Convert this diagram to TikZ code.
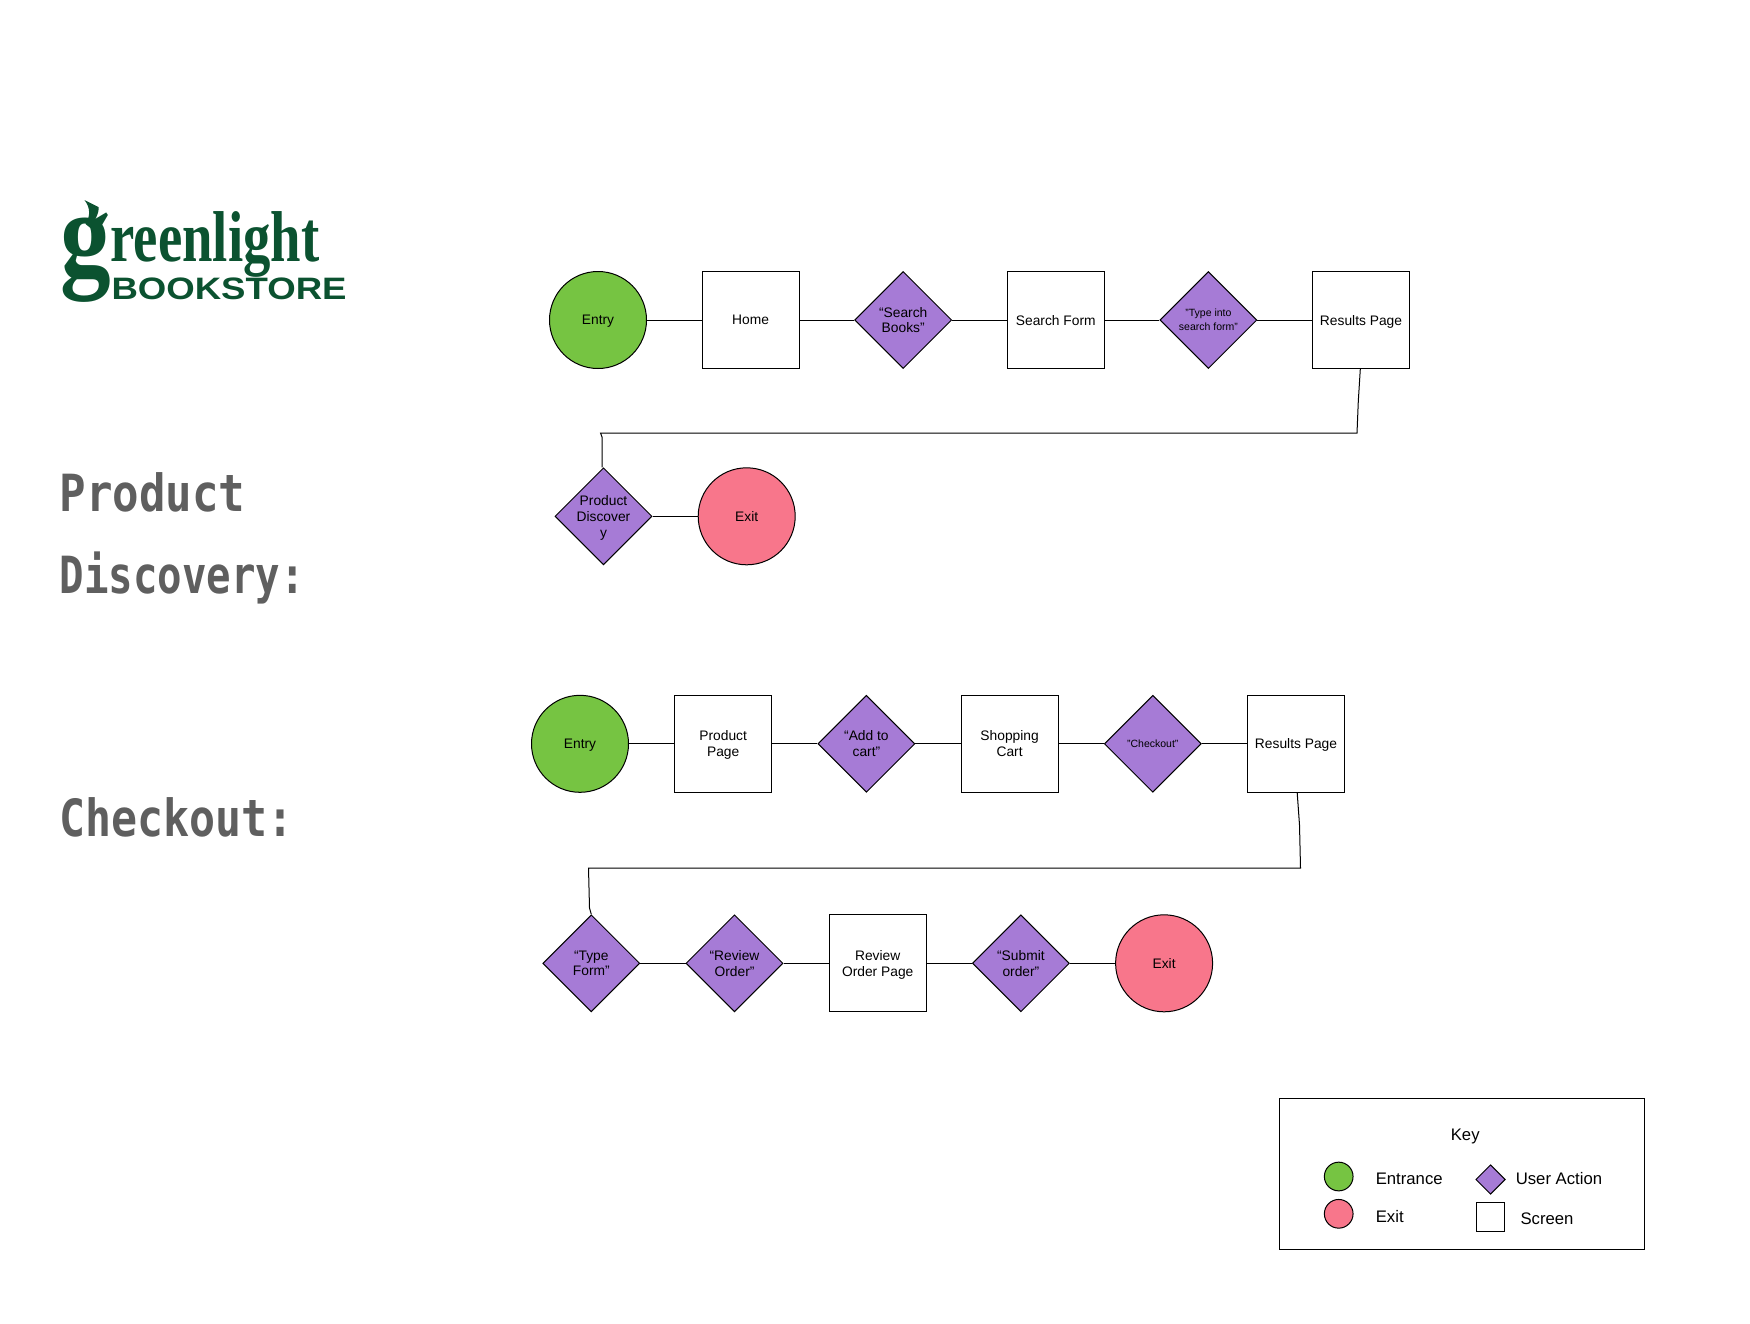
\documentclass[tikz,border=0pt]{standalone}
\usepackage{amsmath}
\usepackage{fontspec}
\setmainfont{Liberation Sans}
\newfontfamily\logofont{Liberation Serif}
\newfontfamily\titlefont{DejaVu Sans Mono}
\usepackage{tikz}
\usetikzlibrary{shapes.geometric}

\definecolor{entrygreen}{HTML}{76C442}
\definecolor{exitpink}{HTML}{F8768B}
\definecolor{actionpurple}{HTML}{A67BD6}
\definecolor{logogreen}{HTML}{0B5230}
\definecolor{titlegrey}{HTML}{5F5F5F}
\newcommand{\titlebox}[2]{\scalebox{#1}[1.22]{#2}}

\begin{document}
\begin{tikzpicture}[-,x=1pt,y=-1pt,line width=1pt,
                    base node/.style={draw,inner sep=0pt,minimum size=97pt,align=center,
                      text depth=0pt,font=\fontsize{13.8}{15.8}\selectfont},
                    entry node/.style={base node,circle,fill=entrygreen},
                    exit node/.style={base node,circle,fill=exitpink},
                    screen node/.style={base node,rectangle,fill=white},
                    action node/.style={base node,diamond,fill=actionpurple},
                    tiny text/.style={font=\fontsize{10.5}{14}\selectfont},
                    key text/.style={anchor=west,inner sep=0pt,font=\fontsize{16.7}{18}\selectfont},
                    title text/.style={anchor=base west,inner sep=0pt,text=titlegrey,
                      font=\titlefont\bfseries\fontsize{42}{44}\selectfont}]

  \useasboundingbox (0,0) rectangle (1750,1323);

  %Logo%
  \node[anchor=base west,inner sep=0pt,text=logogreen,font=\logofont\bfseries] (logo) at (59.5,261)
    {\smash{\raisebox{-14pt}{\scalebox{0.83}[1]{\fontsize{122}{122}\selectfont g}}}\scalebox{0.76}[1]{\fontsize{72}{72}\selectfont reenlight}};
  \node[anchor=base west,inner sep=0pt,text=logogreen,font=\bfseries] (store) at (111,299)
    {\scalebox{1.18}[1]{\fontsize{31}{31}\selectfont BOOKSTORE}};
  \fill[logogreen] (84.5,200) -- (98.5,207) .. controls (99.5,214) and (93.5,222) .. (90.5,228)
    -- (85.5,224) .. controls (90.5,216) and (90.5,208) .. (84.5,200);

  %Titles%
  \node[title text] (title1) at (59,511.7) {\titlebox{1.05}{Product}};
  \node[title text] (title2) at (59,593) {\titlebox{0.97}{Discovery:}};
  \node[title text] (title3) at (59,836.7) {\titlebox{1.03}{Checkout:}};

  %Product Discovery%
  \begin{scope}[node distance=152.6pt]
  \node[entry node] (1) at (598,320) {Entry};
  \node[screen node] (2) [right of=1] {Home};
  \node[action node] (3) [right of=2] {“Search\\Books”};
  \node[screen node] (4) [right of=3] {Search Form};
  \node[action node] (5) [right of=4,tiny text] {"Type into\\search form"};
  \node[screen node] (6) [right of=5] {Results Page};
  \end{scope}

  \begin{scope}[node distance=143.2pt]
  \node[action node] (7) at (603.5,516.3) {Product\\Discover\\y};
  \node[exit node] (8) [right of=7] {Exit};

  %Checkout%
  \node[entry node] (9) at (580,743.8) {Entry};
  \node[screen node] (10) [right of=9] {Product\\Page};
  \node[action node] (11) [right of=10] {“Add to\\cart”};
  \node[screen node] (12) [right of=11] {Shopping\\Cart};
  \node[action node] (13) [right of=12,tiny text] {"Checkout"};
  \node[screen node] (14) [right of=13] {Results Page};

  \node[action node] (15) at (591.3,963.3) {“Type\\Form”};
  \node[action node] (16) [right of=15] {“Review\\Order”};
  \node[screen node] (17) [right of=16] {Review\\Order Page};
  \node[action node] (18) [right of=17] {“Submit\\order”};
  \node[exit node] (19) [right of=18] {Exit};
  \end{scope}

  \coordinate (a0) at (1358.3,401);
  \coordinate (a1) at (1357,433);
  \coordinate (a2) at (600.5,433);
  \coordinate (a3) at (602,437);
  \coordinate (b0) at (1299.5,825);
  \coordinate (b1) at (1300.5,868);
  \coordinate (b2) at (588.5,868);
  \coordinate (b3) at (589.5,908);

  \path
    %Product Discovery%
    (1) edge (2)
    (2) edge (3)
    (3) edge (4)
    (4) edge (5)
    (5) edge (6)
    (7) edge (8)
    %Checkout%
    (9) edge (10)
    (10) edge (11)
    (11) edge (12)
    (12) edge (13)
    (13) edge (14)
    (15) edge (16)
    (16) edge (17)
    (17) edge (18)
    (18) edge (19);
  \draw ([xshift=-0.7pt]6.south) -- (a0) -- (a1) -- (a2) -- (a3) -- ([xshift=-1.5pt]7.north);
  \draw ([xshift=1.2pt]14.south) -- (b0) -- (b1) -- (b2) -- (b3) -- (15.north);

  %Key%
  \node[draw,inner sep=0pt,minimum width=365pt,minimum height=151pt] (key) at (1461.8,1174) {};
  \node[inner sep=0pt,font=\fontsize{16.7}{18}\selectfont] (keytitle) at (1465.2,1136) {Key};
  \node[circle,draw,inner sep=0pt,minimum size=28.7pt,fill=entrygreen] (k1) at (1338.7,1176.5) {};
  \node[circle,draw,inner sep=0pt,minimum size=28.7pt,fill=exitpink] (k2) at (1338.7,1213.8) {};
  \node[diamond,draw,inner sep=0pt,minimum size=29.5pt,fill=actionpurple] (k3) at (1490.5,1179.5) {};
  \node[draw,inner sep=0pt,minimum size=28.5pt,fill=white] (k4) at (1490.5,1217) {};
  \node[key text] (t1) at (1375.3,1179) {Entrance};
  \node[key text] (t2) at (1375.3,1216) {Exit};
  \node[key text] (t3) at (1515.3,1179) {User Action};
  \node[key text] (t4) at (1520,1219) {Screen};
\end{tikzpicture}
\end{document}
